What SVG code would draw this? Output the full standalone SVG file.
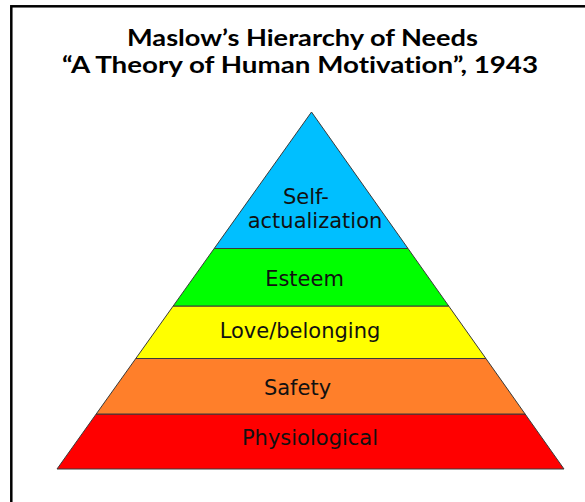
<svg xmlns="http://www.w3.org/2000/svg" width="585" height="502" viewBox="0 0 585 502">
  <style>
    .title { font-family: Lato, "Open Sans", "Liberation Sans", sans-serif; font-weight: 700; font-size: 23.5px; fill: #000; text-anchor: middle; font-variant-ligatures: none; }
    .band { stroke: #3a3a3a; stroke-width: 1; stroke-linejoin: miter; }
    .lbl { font-family: "DejaVu Sans", sans-serif; font-size: 21px; fill: #111; text-anchor: middle; }
  </style>
  <rect x="0" y="0" width="585" height="502" fill="#ffffff"/>
  <rect id="frame" x="11.3" y="6.3" width="600" height="520" fill="none" stroke="#000" stroke-width="2.5"/>
  <g id="title">
    <text class="title" x="302.5" y="45.5" textLength="351" lengthAdjust="spacingAndGlyphs">Maslow’s Hierarchy of Needs</text>
    <text class="title" x="300" y="73" textLength="476" lengthAdjust="spacingAndGlyphs">“A Theory of Human Motivation”, 1943</text>
  </g>
  <g id="connectors"></g>
  <g id="physiological">
    <polygon class="band" fill="#ff0000" points="96.2,414 525.1,414 564,469 57,469"/>
    <text class="lbl" x="310" y="444.5">Physiological</text>
  </g>
  <g id="safety">
    <polygon class="band" fill="#ff7f2a" points="135.8,358.5 485.9,358.5 525.1,414 96.2,414"/>
    <text class="lbl" x="297.5" y="395">Safety</text>
  </g>
  <g id="love">
    <polygon class="band" fill="#ffff00" points="173.2,306 448.7,306 485.9,358.5 135.8,358.5"/>
    <text class="lbl" x="300" y="337.5">Love/belonging</text>
  </g>
  <g id="esteem">
    <polygon class="band" fill="#00ff00" points="214.2,248.5 408,248.5 448.7,306 173.2,306"/>
    <text class="lbl" x="304.5" y="285.5">Esteem</text>
  </g>
  <g id="self-actualization">
    <polygon class="band" fill="#00bfff" points="311.5,112 408,248.5 214.2,248.5"/>
    <text class="lbl" x="306" y="204.3">Self-</text>
    <text class="lbl" x="315" y="228">actualization</text>
  </g>
</svg>
